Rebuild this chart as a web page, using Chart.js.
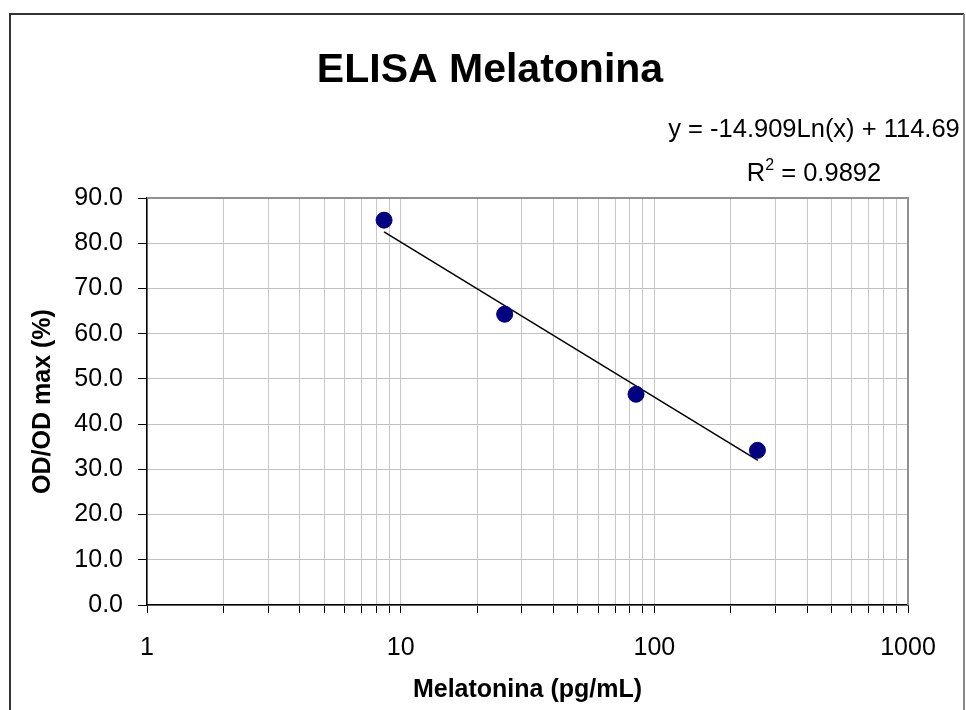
<!DOCTYPE html>
<html>
<head>
<meta charset="utf-8">
<title>ELISA Melatonina</title>
<script src="https://cdn.jsdelivr.net/npm/chart.js@4/dist/chart.umd.min.js"></script>
<style>
  html, body { margin: 0; padding: 0; background: #fff; }
  canvas { display: block; }
</style>
</head>
<body>
<canvas id="elisaChart" width="966" height="710"></canvas>
<script>
// Standards (log x axis)
const concentrations = [8.6, 25.7, 84.7, 255];
const odPercent = [85.1, 64.3, 46.6, 34.2];

// Log trendline endpoints (straight on a log axis)
const trendX = [8.6, 256];
const trendY = [82.5, 32.0];

const yTickValues = [0, 10, 20, 30, 40, 50, 60, 70, 80, 90];
const xMajorTicks = [1, 10, 100, 1000];
const chartTitle = 'ELISA Melatonina';
const equationText = 'y = -14.909Ln(x) + 114.69';
const r2Value = '0.9892';

const FONT = '"Liberation Sans", Arial, sans-serif';

// every 1..9 step in each decade, for the minor grid lines
const xTickValues = [];
xMajorTicks.slice(0, 3).forEach(function(d) {
    for (let i = 1; i < 10; i++) xTickValues.push(d * i);
});
xTickValues.push(1000);

const framePlugin = {
    id: 'frame',
    beforeDraw(chart) {
        const ctx = chart.ctx;
        ctx.save();
        ctx.fillStyle = '#fff';
        ctx.fillRect(0, 0, chart.width, chart.height);
        ctx.lineWidth = 2;
        ctx.strokeStyle = '#333';
        ctx.beginPath();
        ctx.moveTo(10, 720);
        ctx.lineTo(10, 14);
        ctx.lineTo(964, 14);
        ctx.stroke();
        ctx.strokeStyle = '#888';
        ctx.beginPath();
        ctx.moveTo(964, 14);
        ctx.lineTo(964, 720);
        ctx.stroke();
        ctx.restore();
    },
    beforeDatasetsDraw(chart) {
        const a = chart.chartArea;
        const ctx = chart.ctx;
        ctx.save();
        ctx.strokeStyle = '#909090';
        ctx.lineWidth = 2;
        ctx.beginPath();
        ctx.moveTo(a.left, a.top);
        ctx.lineTo(a.right, a.top);
        ctx.lineTo(a.right, a.bottom);
        ctx.stroke();
        ctx.restore();
    },
    afterDraw(chart) {
        const ctx = chart.ctx;
        ctx.save();
        ctx.fillStyle = '#000';
        ctx.textBaseline = 'alphabetic';
        ctx.textAlign = 'center';
        ctx.font = 'bold 41px ' + FONT;
        ctx.fillText(chartTitle, 490, 82);

        const cx = 814;
        ctx.font = '25.5px ' + FONT;
        ctx.fillText(equationText, cx, 137);

        // R² line with superscript
        const rest = ' = ' + r2Value;
        const wR = ctx.measureText('R').width;
        const wRest = ctx.measureText(rest).width;
        ctx.font = '16px ' + FONT;
        const w2 = ctx.measureText('2').width;
        let x = cx - (wR + w2 + wRest) / 2;
        ctx.textAlign = 'left';
        ctx.font = '25.5px ' + FONT;
        ctx.fillText('R', x, 181);
        x += wR;
        ctx.font = '16px ' + FONT;
        ctx.fillText('2', x, 170);
        x += w2;
        ctx.font = '25.5px ' + FONT;
        ctx.fillText(rest, x, 181);
        ctx.restore();
    }
};

new Chart(document.getElementById('elisaChart').getContext('2d'), {
    type: 'scatter',
    data: {
        datasets: [{
            label: 'Standards',
            data: concentrations.map((c, i) => ({ x: c, y: odPercent[i] })),
            backgroundColor: '#000080',
            borderColor: '#000080',
            pointRadius: 8,
            pointHoverRadius: 8,
            order: 1
        }, {
            type: 'line',
            label: 'Trend',
            data: trendX.map((c, i) => ({ x: c, y: trendY[i] })),
            borderColor: '#000',
            borderWidth: 1.5,
            pointRadius: 0,
            fill: false,
            order: 2
        }]
    },
    options: {
        responsive: false,
        animation: false,
        layout: { padding: { left: 10, right: 58, top: 198, bottom: 0 } },
        plugins: {
            legend: { display: false },
            tooltip: { enabled: false },
            title: { display: false }
        },
        scales: {
            x: {
                type: 'logarithmic',
                min: 1,
                max: 1000,
                afterBuildTicks(scale) {
                    scale.ticks = xTickValues.map(v => ({ value: v, major: xMajorTicks.includes(v) }));
                },
                afterFit(scale) { scale.height = 105; },
                ticks: {
                    autoSkip: false,
                    maxRotation: 0,
                    minRotation: 0,
                    padding: 20,
                    color: '#000',
                    font: { family: FONT, size: 25 },
                    callback(v) {
                        return xMajorTicks.includes(v) ? String(v) : '';
                    }
                },
                grid: {
                    color: '#c8c8c8',
                    lineWidth: 1,
                    tickLength: 8,
                    tickColor: '#000'
                },
                border: { color: '#000', width: 1.5 },
                title: {
                    display: true,
                    text: 'Melatonina (pg/mL)',
                    color: '#000',
                    font: { family: FONT, size: 25, weight: 'bold' },
                    padding: { top: 0, bottom: 5 }
                }
            },
            y: {
                min: 0,
                max: 90,
                afterBuildTicks(scale) {
                    scale.ticks = yTickValues.map(v => ({ value: v }));
                },
                afterFit(scale) { scale.width = 137; },
                ticks: {
                    padding: 15,
                    color: '#000',
                    font: { family: FONT, size: 25 },
                    callback(v) { return Number(v).toFixed(1); }
                },
                grid: {
                    color: '#c0c0c0',
                    lineWidth: 1,
                    tickLength: 9,
                    tickColor: '#000'
                },
                border: { color: '#000', width: 1.5 },
                title: {
                    display: true,
                    text: 'OD/OD max (%)',
                    color: '#000',
                    font: { family: FONT, size: 25, weight: 'bold' },
                    padding: { top: 18, bottom: 0 }
                }
            }
        }
    },
    plugins: [framePlugin]
});
</script>
</body>
</html>
